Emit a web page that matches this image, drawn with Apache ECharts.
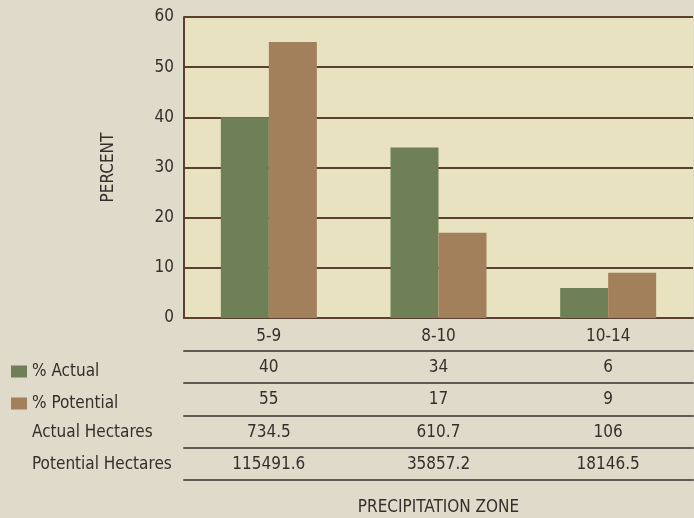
<!DOCTYPE html>
<html>
<head>
<meta charset="utf-8">
<script src="https://cdn.jsdelivr.net/npm/echarts@6/dist/echarts.min.js"></script>
<style>
  html, body { margin: 0; padding: 0; background: #e0dacb; }
  #chart { width: 694px; height: 518px; }
</style>
</head>
<body>
<div id="chart"></div>
<script>
// Precipitation zones and the share of area per zone
const zones = ['5-9', '8-10', '10-14'];
const pctActual = [40, 34, 6];
const pctPotential = [55, 17, 9];
const actualHectares = ['734.5', '610.7', '106'];
const potentialHectares = ['115491.6', '35857.2', '18146.5'];
const rowHeaders = ['Actual Hectares', 'Potential Hectares'];

const FONT = '"Liberation Sans Narrow", "DejaVu Sans Condensed", "Noto Sans", sans-serif';
const INK = '#342f2b';
const FRAME = '#5b3f30';
const RULE = '#615b55';
const GREEN = '#6f8057';
const BROWN = '#a3805c';

const GRID_BOTTOM = 200;
const rowOffsets = [33, 65, 98, 130, 162];

function tableAxis(offset, values, extra) {
  return Object.assign({
    type: 'category',
    data: zones,
    gridIndex: 0,
    position: 'bottom',
    offset: offset,
    axisLine: { show: true, lineStyle: { color: RULE, width: 2 } },
    axisTick: { show: false },
    splitLine: { show: false },
    axisLabel: {
      show: !!values,
      margin: 8,
      fontFamily: FONT,
      fontSize: 17,
      color: INK,
      formatter: (v, i) => values ? values[i] : ''
    }
  }, extra || {});
}

const chart = echarts.init(document.getElementById('chart'), null, { renderer: 'canvas' });
chart.setOption({
  backgroundColor: '#e0dacb',
  animation: false,
  textStyle: { fontFamily: FONT },
  grid: {
    left: 184, right: 1, top: 17, bottom: GRID_BOTTOM,
    outerBoundsMode: 'none',
    containLabel: false,
    show: true, backgroundColor: '#e9e2c1', borderWidth: 0
  },
  legend: {
    orient: 'vertical',
    left: 11, top: 363,
    padding: 0,
    itemWidth: 16, itemHeight: 12, itemGap: 15,
    icon: 'rect',
    selectedMode: false,
    textStyle: { fontFamily: FONT, fontSize: 17, color: INK, lineHeight: 17 },
    data: ['% Actual', '% Potential']
  },
  xAxis: [
    {
      type: 'category',
      data: zones,
      position: 'bottom',
      axisLine: { show: true, lineStyle: { color: FRAME, width: 2 } },
      axisTick: { show: false },
      axisLabel: { margin: 10, fontFamily: FONT, fontSize: 17, color: INK }
    },
    tableAxis(rowOffsets[0], pctActual),
    tableAxis(rowOffsets[1], pctPotential),
    tableAxis(rowOffsets[2], actualHectares),
    tableAxis(rowOffsets[3], potentialHectares),
    tableAxis(rowOffsets[4], null, {
      name: 'PRECIPITATION ZONE',
      nameLocation: 'middle',
      nameGap: 19,
      nameTextStyle: { fontFamily: FONT, fontSize: 17, color: INK }
    })
  ],
  yAxis: {
    type: 'value',
    min: 0, max: 60, interval: 10,
    name: 'PERCENT',
    nameLocation: 'middle',
    nameRotate: 90,
    nameGap: 67,
    nameTextStyle: { fontFamily: FONT, fontSize: 17, color: INK },
    axisLine: { show: true, lineStyle: { color: FRAME, width: 2 } },
    axisTick: { show: false },
    axisLabel: { margin: 10, fontFamily: FONT, fontSize: 17, color: INK },
    splitLine: { show: true, lineStyle: { color: FRAME, width: 2 } }
  },
  series: [
    {
      name: '% Actual', type: 'bar', data: pctActual,
      barWidth: 48, barGap: '0%',
      itemStyle: { color: GREEN }
    },
    {
      name: '% Potential', type: 'bar', data: pctPotential,
      barWidth: 48, barGap: '0%',
      itemStyle: { color: BROWN }
    }
  ],
  graphic: rowHeaders.map((t, i) => ({
    type: 'text',
    left: 32,
    top: 424 + i * 32,
    style: { text: t, font: '17px ' + FONT, fill: INK }
  }))
});
</script>
</body>
</html>
